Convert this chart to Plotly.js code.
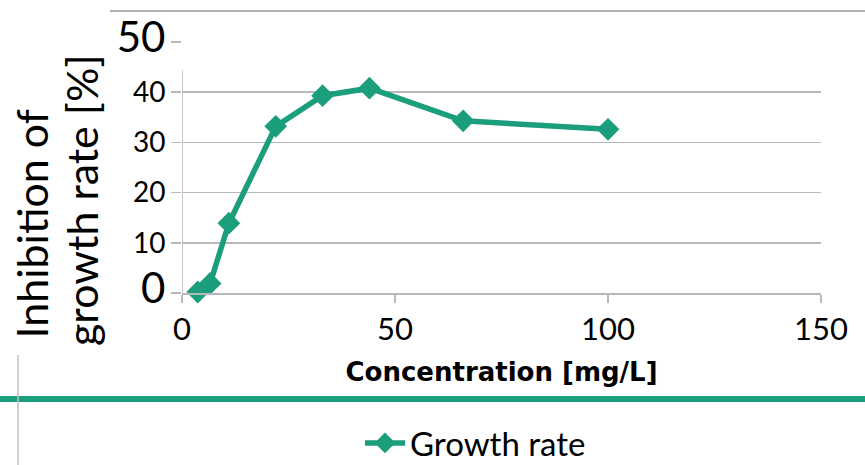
<!DOCTYPE html>
<html>
<head>
<meta charset="utf-8">
<script src="https://cdn.plot.ly/plotly-3.0.1.min.js"></script>
<style>html,body{margin:0;padding:0;background:#fff;}#chart{width:865px;height:465px;}</style>
</head>
<body>
<div id="chart"></div>
<script>
// Data
const concentration = [3.7, 6.6, 11, 22, 33, 44, 66, 100];
const inhibition = [0.2, 1.9, 13.9, 33.2, 39.3, 40.8, 34.3, 32.6];
const seriesName = "Growth rate";
const xTickVals = [0, 50, 100, 150];
const xTickText = ["0", "50", "100", "150"];
const yTickVals = [0, 10, 20, 30, 40, 50];
const yTickText = ["0", "10", "20", "30", "40", "50"];
const xTitle = "Concentration [mg/L]";
const yTitleLines = ["Inhibition of", "growth rate [%]"];

const GREEN = "#1b9e7b";
const GRID = "#b8b8b8";
const FONT = "Lato, 'Open Sans', sans-serif";

// plot area in pixels
const L = 182, R = 44, T = 42, B = 172, W = 865, H = 465;
const pw = W - L - R, ph = H - T - B;
const px = v => (v - L) / pw;
const py = v => (H - B - v) / ph;

const bigTicks = new Set([0, 50]);
const yText = yTickText.map((t, i) =>
  bigTicks.has(yTickVals[i]) ? '<span style="font-size:42px">' + t + '</span>' : t);

const trace = {
  x: concentration,
  y: inhibition,
  name: seriesName,
  type: "scatter",
  mode: "lines+markers",
  line: {color: GREEN, width: 5.5},
  marker: {symbol: "diamond", size: 17.5, color: GREEN},
  cliponaxis: false
};

const layout = {
  width: W, height: H,
  margin: {l: L, r: R, t: T, b: B, autoexpand: false},
  paper_bgcolor: "#fff", plot_bgcolor: "#fff",
  font: {family: FONT, color: "#000"},
  showlegend: true,
  legend: {
    orientation: "h", x: px(360), xanchor: "left", y: py(415), yanchor: "top",
    font: {family: FONT, size: 33, color: "#000"}, itemwidth: 40,
    bgcolor: "rgba(0,0,0,0)"
  },
  xaxis: {
    range: [0, 150], tickmode: "array", tickvals: xTickVals, ticktext: xTickText,
    ticks: "outside", ticklen: 8, tickcolor: GRID, tickwidth: 1.5,
    showline: true, linecolor: GRID, linewidth: 1.5,
    showgrid: false, zeroline: false, automargin: false,
    tickfont: {family: FONT, size: 31, color: "#000"},
    title: {text: xTitle, font: {family: "'DejaVu Sans', sans-serif", size: 26, color: "#000", weight: "bold"}, standoff: 17}
  },
  yaxis: {
    range: [0, 50], tickmode: "array", tickvals: yTickVals, ticktext: yText,
    ticks: "outside", ticklen: 10, tickcolor: GRID, tickwidth: 1.5,
    showline: false, showgrid: true, gridcolor: GRID, gridwidth: 1.5,
    zeroline: false, automargin: false,
    tickfont: {family: FONT, size: 28, color: "#000"}
  },
  shapes: [
    {type: "line", xref: "x", yref: "y", x0: 0, x1: 0, y0: 0, y1: 44.4, line: {color: GRID, width: 1.5}},
    {type: "line", xref: "paper", yref: "paper", x0: px(110), x1: px(870), y0: py(11), y1: py(11), line: {color: "#b0b0b0", width: 2}},
    {type: "line", xref: "paper", yref: "paper", x0: px(-5), x1: px(870), y0: py(399), y1: py(399), line: {color: GREEN, width: 6}},
    {type: "line", xref: "paper", yref: "paper", x0: px(18), x1: px(18), y0: py(355), y1: py(470), line: {color: "#c0c0c0", width: 1.5}}
  ],
  annotations: [
    {text: yTitleLines[0], xref: "paper", yref: "paper", x: px(31), y: py(341), xanchor: "center", yanchor: "bottom",
     textangle: -90, showarrow: false, font: {family: FONT, size: 43, color: "#000"}},
    {text: yTitleLines[1], xref: "paper", yref: "paper", x: px(81), y: py(348), xanchor: "center", yanchor: "bottom",
     textangle: -90, showarrow: false, font: {family: FONT, size: 43, color: "#000"}}
  ]
};

Plotly.newPlot("chart", [trace], layout, {displayModeBar: false, staticPlot: true});
</script>
</body>
</html>
